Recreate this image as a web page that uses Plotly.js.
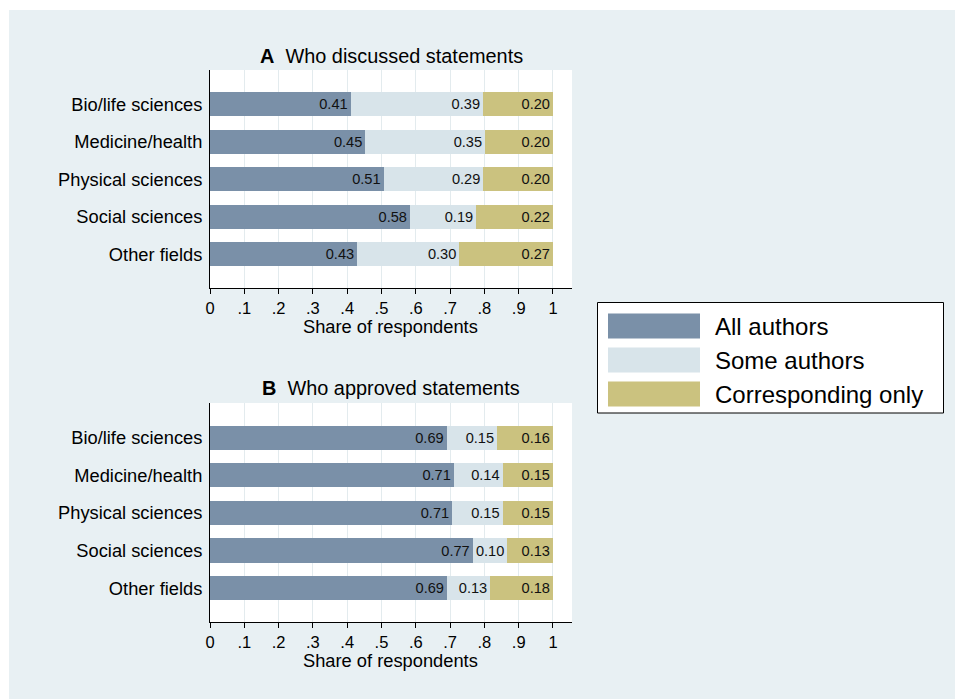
<!DOCTYPE html>
<html>
<head>
<meta charset="utf-8">
<script src="https://cdn.plot.ly/plotly-3.0.1.min.js"></script>
<style>
html,body{margin:0;padding:0;background:#ffffff;width:955px;height:699px;overflow:hidden;}
#chart{position:absolute;left:9px;top:10px;width:946px;height:689px;}
</style>
</head>
<body>
<div id="chart"></div>
<script>
const categories = ['Bio/life sciences','Medicine/health','Physical sciences','Social sciences','Other fields'];
const seriesNames = ['All authors','Some authors','Corresponding only'];
const seriesColors = ['#7a90a8','#d8e4ea','#cbc27f'];
const panelTitles = ['Who discussed statements','Who approved statements'];
const panelLetters = ['A','B'];
const tickVals = [0,0.1,0.2,0.3,0.4,0.5,0.6,0.7,0.8,0.9,1];
const tickText = ['0','.1','.2','.3','.4','.5','.6','.7','.8','.9','1'];
const axisTitle = 'Share of respondents';

const discussedAll  = [0.410,0.453,0.506,0.583,0.429];
const discussedSome = [0.386,0.349,0.291,0.193,0.298];
const discussedCorr = [0.204,0.198,0.203,0.224,0.273];
const approvedAll   = [0.690,0.711,0.706,0.766,0.691];
const approvedSome  = [0.147,0.142,0.147,0.101,0.126];
const approvedCorr  = [0.163,0.147,0.147,0.133,0.183];

const W = 946, H = 689, OX = 9, OY = 10;
const px = x => (x - OX) / W;
const py = y => 1 - (y - OY) / H;
const FONT = 'Liberation Sans, Arial, Helvetica, sans-serif';

const panels = [
  [discussedAll, discussedSome, discussedCorr],
  [approvedAll, approvedSome, approvedCorr]
];

const traces = [];
panels.forEach((vals, p) => {
  vals.forEach((v, s) => {
    traces.push({
      type: 'bar', orientation: 'h',
      x: v, y: categories,
      xaxis: p === 0 ? 'x' : 'x2',
      yaxis: p === 0 ? 'y' : 'y2',
      name: seriesNames[s],
      showlegend: false,
      width: 0.64,
      marker: {color: seriesColors[s], line: {width: 0}},
      texttemplate: '%{x:.2f}',
      textposition: 'inside',
      insidetextanchor: 'end',
      textangle: 0,
      constraintext: 'none',
      textfont: {color: '#111', size: 14.6, family: FONT},
      hoverinfo: 'skip'
    });
  });
});

const xDomain = [px(210), px(572)];
function xAxis(anchor) {
  return {
    domain: xDomain, anchor: anchor, range: [0, 1.0555],
    tickmode: 'array', tickvals: tickVals, ticktext: tickText,
    ticks: 'outside', ticklen: 5, tickwidth: 1, tickcolor: '#000',
    showline: true, linecolor: '#000', linewidth: 1,
    showgrid: true, gridcolor: '#e3ebee', gridwidth: 1, zeroline: false,
    tickfont: {size: 16.5, color: '#000', family: FONT},
    automargin: false, fixedrange: true
  };
}
function yAxis(anchor, top, bottom) {
  return {
    domain: [py(bottom), py(top)], anchor: anchor, type: 'category',
    range: [4.9, -0.92],
    showline: true, linecolor: '#000', linewidth: 1,
    ticks: '', showgrid: false, zeroline: false,
    ticklabelstandoff: 3,
    tickfont: {size: 18.3, color: '#000', family: FONT},
    automargin: false, fixedrange: true
  };
}

const annotations = [];
const titleY = [56, 388];
const axisTitleY = [326, 660.5];
panelTitles.forEach((t, i) => {
  annotations.push({
    xref: 'paper', yref: 'paper', x: px(391), y: py(titleY[i]),
    xanchor: 'center', yanchor: 'middle', showarrow: false,
    text: '<b>' + panelLetters[i] + '</b>  ' + t,
    font: {size: 19.9, color: '#000', family: FONT}
  });
  annotations.push({
    xref: 'paper', yref: 'paper', x: px(390.5), y: py(axisTitleY[i]),
    xanchor: 'center', yanchor: 'middle', showarrow: false,
    text: axisTitle,
    font: {size: 18.3, color: '#000', family: FONT}
  });
});

const shapes = [{
  type: 'rect', xref: 'paper', yref: 'paper',
  x0: px(597.5), x1: px(943.5), y0: py(413), y1: py(302.5),
  line: {color: '#000', width: 1}, fillcolor: '#ffffff', layer: 'above'
}];
const legendRowY = [326, 360, 394];
seriesNames.forEach((n, i) => {
  shapes.push({
    type: 'rect', xref: 'paper', yref: 'paper',
    x0: px(608), x1: px(700), y0: py(legendRowY[i] + 12.5), y1: py(legendRowY[i] - 12.5),
    line: {width: 0}, fillcolor: seriesColors[i], layer: 'above'
  });
  annotations.push({
    xref: 'paper', yref: 'paper', x: px(713), y: py(legendRowY[i]),
    xanchor: 'left', yanchor: 'middle', showarrow: false,
    text: n, font: {size: 24, color: '#000', family: FONT}
  });
});

const layout = {
  width: W, height: H,
  margin: {l: 0, r: 0, t: 0, b: 0, pad: 0},
  paper_bgcolor: '#e8f0f3', plot_bgcolor: '#ffffff',
  font: {family: FONT, color: '#000'},
  barmode: 'stack',
  showlegend: false,
  xaxis: xAxis('y'),
  yaxis: yAxis('x', 70, 288),
  xaxis2: xAxis('y2'),
  yaxis2: yAxis('x2', 403, 622),
  annotations: annotations,
  shapes: shapes
};

Plotly.newPlot('chart', traces, layout, {displayModeBar: false, staticPlot: true});
</script>
</body>
</html>
